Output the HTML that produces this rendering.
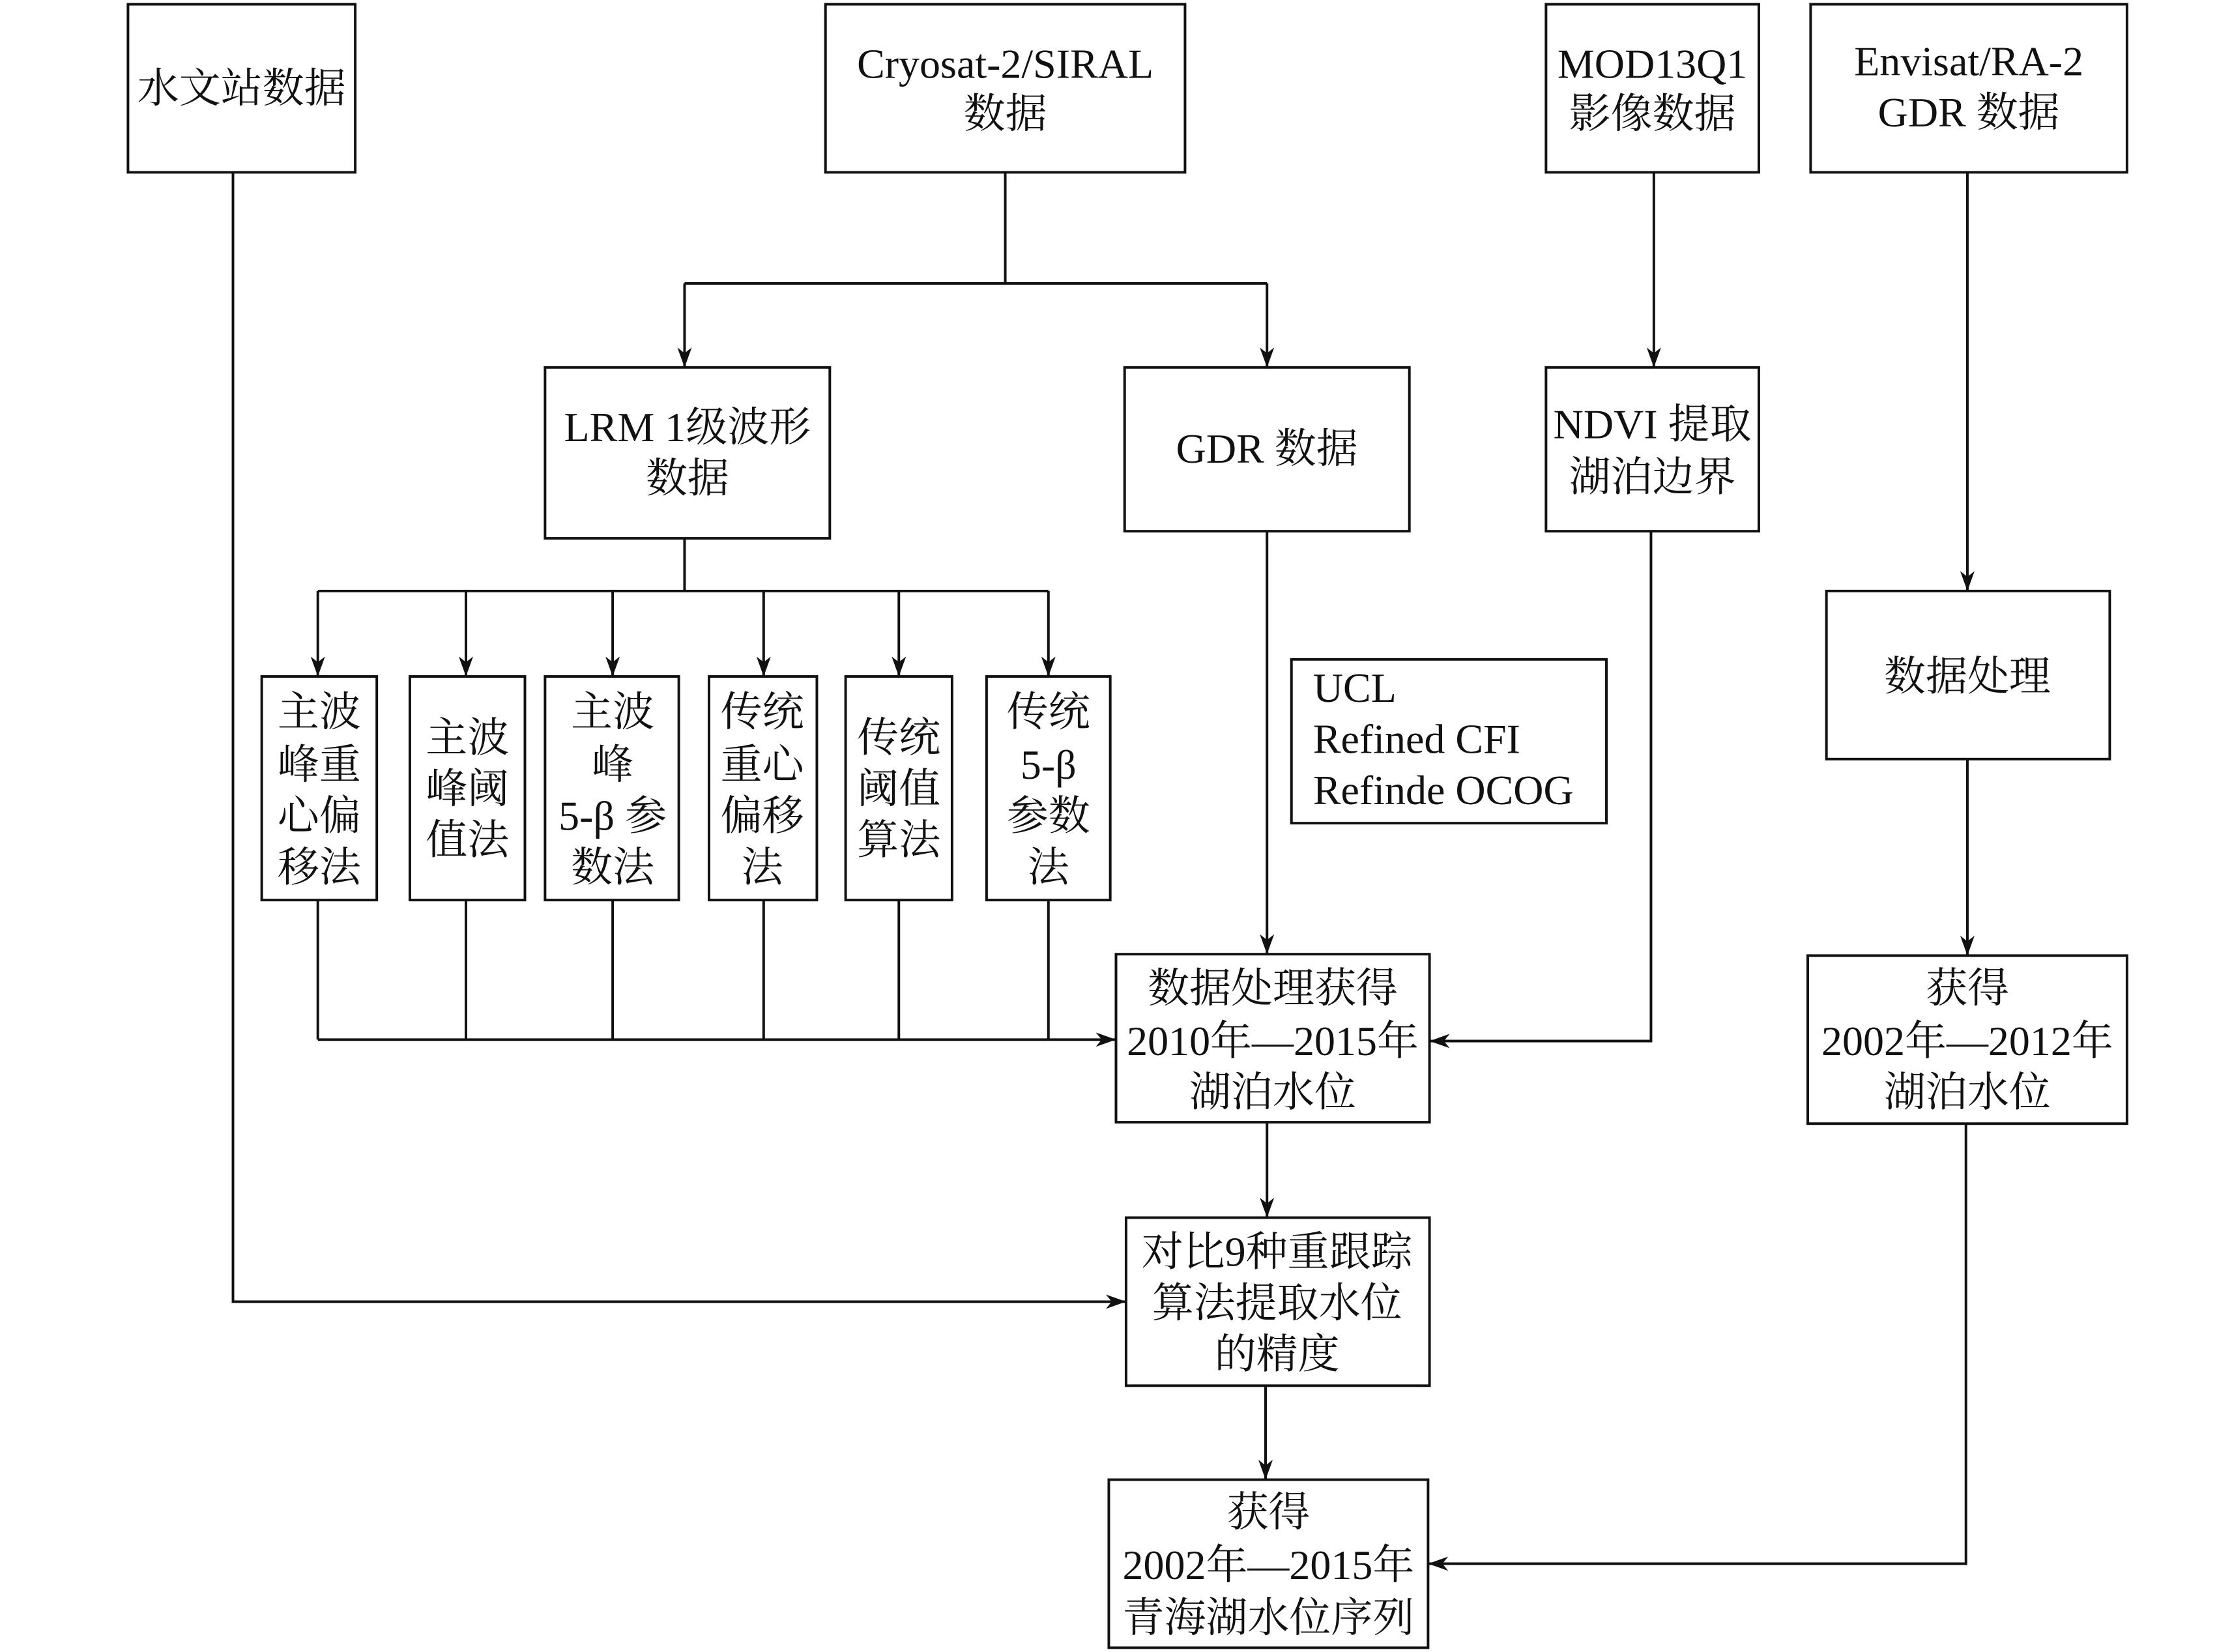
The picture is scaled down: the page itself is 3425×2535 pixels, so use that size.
<!DOCTYPE html>
<html><head><meta charset="utf-8"><style>
html,body{margin:0;padding:0;background:#fff}
svg{display:block}
text{font-family:"Liberation Serif","Noto Serif CJK SC",serif;font-size:29px;fill:#111;text-anchor:middle;dominant-baseline:central}
</style></head><body>
<svg width="3425" height="2535" viewBox="0 0 1552 1160" preserveAspectRatio="none" xmlns="http://www.w3.org/2000/svg">
<defs><marker id="a" markerWidth="14" markerHeight="10" refX="14" refY="5" orient="auto" markerUnits="userSpaceOnUse"><path d="M0,0 L14,5 L0,10 L4,5 Z" fill="#111"/></marker></defs>
<g fill="none" stroke="#111" stroke-width="1.8">
<rect x="89" y="3" width="158" height="118"/>
<rect x="574" y="3" width="250" height="118"/>
<rect x="1075" y="3" width="148" height="118"/>
<rect x="1259" y="3" width="220" height="118"/>
<rect x="379" y="258" width="198" height="120"/>
<rect x="782" y="258" width="198" height="115"/>
<rect x="1075" y="258" width="148" height="115"/>
<rect x="1270" y="415" width="197" height="118"/>
<rect x="182" y="475" width="80" height="157"/>
<rect x="285" y="475" width="80" height="157"/>
<rect x="379" y="475" width="93" height="157"/>
<rect x="493" y="475" width="75" height="157"/>
<rect x="588" y="475" width="74" height="157"/>
<rect x="686" y="475" width="86" height="157"/>
<rect x="898" y="463" width="219" height="115"/>
<rect x="776" y="670" width="218" height="118"/>
<rect x="1257" y="671" width="222" height="118"/>
<rect x="783" y="855" width="211" height="118"/>
<rect x="771" y="1039" width="222" height="118"/>
<path d="M699,121 V199 M476,199 H881"/>
<path d="M476,199 V258" marker-end="url(#a)"/>
<path d="M881,199 V258" marker-end="url(#a)"/>
<path d="M1150,121 V258" marker-end="url(#a)"/>
<path d="M1368,121 V415" marker-end="url(#a)"/>
<path d="M476,378 V415 M221,415 H729"/>
<path d="M221,415 V475" marker-end="url(#a)"/>
<path d="M324,415 V475" marker-end="url(#a)"/>
<path d="M426,415 V475" marker-end="url(#a)"/>
<path d="M531,415 V475" marker-end="url(#a)"/>
<path d="M625,415 V475" marker-end="url(#a)"/>
<path d="M729,415 V475" marker-end="url(#a)"/>
<path d="M221,632 V730 M324,632 V730 M426,632 V730 M531,632 V730 M625,632 V730 M729,632 V730"/>
<path d="M221,730 H776" marker-end="url(#a)"/>
<path d="M881,373 V670" marker-end="url(#a)"/>
<path d="M1148,373 V731 H994" marker-end="url(#a)"/>
<path d="M1368,533 V671" marker-end="url(#a)"/>
<path d="M881,788 V855" marker-end="url(#a)"/>
<path d="M162,121 V914 H783" marker-end="url(#a)"/>
<path d="M880,973 V1039" marker-end="url(#a)"/>
<path d="M1367,789 V1098 H993" marker-end="url(#a)"/>
</g>
<text x="168" y="62">水文站数据</text>
<text x="699" y="45">Cryosat-2/SIRAL</text><text x="699" y="80">数据</text>
<text x="1149" y="45">MOD13Q1</text><text x="1149" y="80">影像数据</text>
<text x="1369" y="43">Envisat/RA-2</text><text x="1369" y="79">GDR 数据</text>
<text x="478" y="300">LRM 1级波形</text><text x="478" y="336">数据</text>
<text x="881" y="315">GDR 数据</text>
<text x="1149" y="298">NDVI 提取</text><text x="1149" y="335">湖泊边界</text>
<text x="1368" y="475">数据处理</text>
<text x="222" y="500">主波</text><text x="222" y="537">峰重</text><text x="222" y="573">心偏</text><text x="222" y="609">移法</text>
<text x="325" y="518">主波</text><text x="325" y="554">峰阈</text><text x="325" y="590">值法</text>
<text x="426" y="500">主波</text><text x="426" y="537">峰</text><text x="426" y="573">5-β 参</text><text x="426" y="609">数法</text>
<text x="530" y="500">传统</text><text x="530" y="537">重心</text><text x="530" y="573">偏移</text><text x="530" y="609">法</text>
<text x="625" y="518">传统</text><text x="625" y="554">阈值</text><text x="625" y="590">算法</text>
<text x="729" y="500">传统</text><text x="729" y="537">5-β</text><text x="729" y="573">参数</text><text x="729" y="609">法</text>
<text x="913" y="483" style="text-anchor:start">UCL</text><text x="913" y="519" style="text-anchor:start">Refined CFI</text><text x="913" y="555" style="text-anchor:start">Refinde OCOG</text>
<text x="885" y="694">数据处理获得</text><text x="885" y="731">2010年—2015年</text><text x="885" y="767">湖泊水位</text>
<text x="1368" y="694">获得</text><text x="1368" y="731">2002年—2012年</text><text x="1368" y="767">湖泊水位</text>
<text x="888" y="879">对比9种重跟踪</text><text x="888" y="915">算法提取水位</text><text x="888" y="951">的精度</text>
<text x="882" y="1062">获得</text><text x="882" y="1099">2002年—2015年</text><text x="882" y="1136">青海湖水位序列</text>
</svg>
</body></html>
